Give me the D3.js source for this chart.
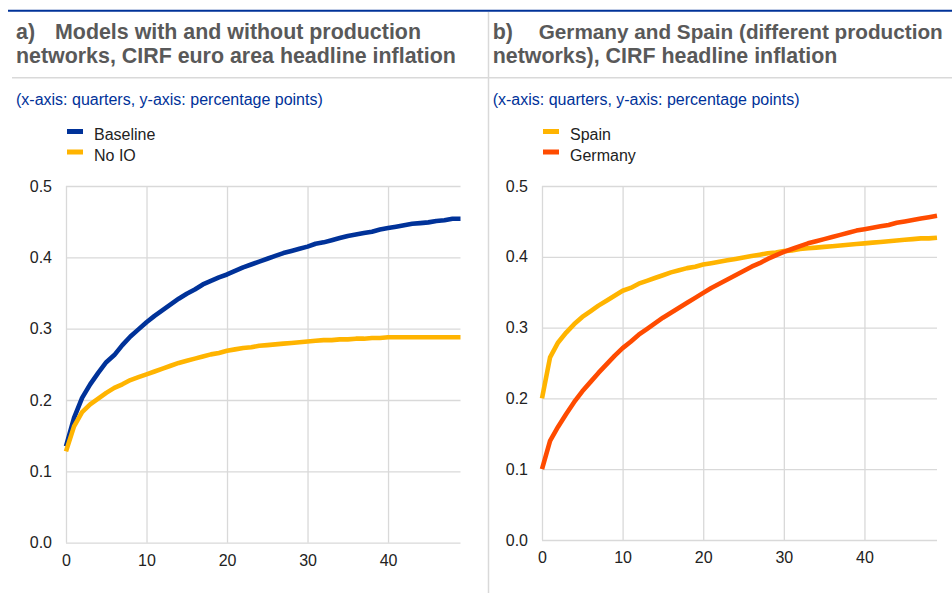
<!DOCTYPE html>
<html>
<head>
<meta charset="utf-8">
<script src="https://cdn.jsdelivr.net/npm/d3@7"></script>
<style>
  html, body { margin: 0; padding: 0; background: #fff; }
  svg { display: block; font-family: "Liberation Sans", Arial, sans-serif; }
</style>
</head>
<body>
<svg id="chart" width="952" height="593"></svg>
<script>
// ---- Data ----
const quarters = d3.range(0, 50);
const xTicks = [0, 10, 20, 30, 40];
const yTicks = [0.0, 0.1, 0.2, 0.3, 0.4, 0.5];

const baseline = [0.135,0.175,0.203,0.222,0.238,0.253,0.263,0.277,0.289,0.299,
  0.309,0.318,0.326,0.334,0.342,0.349,0.355,0.362,0.367,0.372,
  0.376,0.381,0.386,0.390,0.394,0.398,0.402,0.406,0.409,0.412,
  0.415,0.419,0.421,0.424,0.427,0.430,0.432,0.434,0.436,0.439,
  0.441,0.443,0.445,0.447,0.448,0.449,0.451,0.452,0.454,0.454];
const noIO = [0.128,0.163,0.183,0.194,0.202,0.210,0.217,0.222,0.228,0.232,
  0.236,0.240,0.244,0.248,0.252,0.255,0.258,0.261,0.264,0.266,
  0.269,0.271,0.273,0.274,0.276,0.277,0.278,0.279,0.280,0.281,
  0.282,0.283,0.284,0.284,0.285,0.285,0.286,0.286,0.287,0.287,
  0.288,0.288,0.288,0.288,0.288,0.288,0.288,0.288,0.288,0.288];
const spain = [0.200,0.258,0.279,0.293,0.305,0.315,0.323,0.331,0.338,0.345,
  0.352,0.356,0.362,0.366,0.370,0.374,0.378,0.381,0.384,0.386,
  0.389,0.391,0.393,0.395,0.397,0.399,0.401,0.403,0.405,0.406,
  0.408,0.409,0.411,0.412,0.413,0.414,0.415,0.416,0.417,0.418,
  0.419,0.420,0.421,0.422,0.423,0.424,0.425,0.426,0.426,0.427];
const germany = [0.100,0.140,0.160,0.178,0.195,0.210,0.223,0.236,0.248,0.260,
  0.271,0.280,0.290,0.298,0.306,0.314,0.321,0.328,0.335,0.342,
  0.349,0.356,0.362,0.368,0.374,0.380,0.386,0.391,0.397,0.402,
  0.407,0.411,0.415,0.419,0.422,0.425,0.428,0.431,0.434,0.437,
  0.439,0.441,0.443,0.445,0.448,0.450,0.452,0.454,0.456,0.458];

const labelA = "a)";
const titleA = ["Models with and without production", "networks, CIRF euro area headline inflation"];
const labelB = "b)";
const titleB = ["Germany and Spain (different production", "networks), CIRF headline inflation"];
const subtitle = "(x-axis: quarters, y-axis: percentage points)";

const panels = [
  { label: labelA, title: titleA, left: 0, width: 488, tx: 16, tx2: 55, maxW: 366,
    x0: 66, x1: 460.5, y0: 542.7, y1: 186,
    series: [ {name: "Baseline", values: baseline, color: "#003299"},
              {name: "No IO", values: noIO, color: "#ffb400"} ] },
  { label: labelB, title: titleB, left: 488, width: 464, tx: 492.7, tx2: 538.7, maxW: 404,
    x0: 542, x1: 937, y0: 540, y1: 186,
    series: [ {name: "Spain", values: spain, color: "#ffb400"},
              {name: "Germany", values: germany, color: "#ff4b00"} ] }
];

const svg = d3.select("#chart");

// top rule
svg.append("line").attr("x1", 8).attr("x2", 952).attr("y1", 10.7).attr("y2", 10.7)
  .attr("stroke", "#003299").attr("stroke-width", 2);
// vertical divider
svg.append("line").attr("x1", 488.5).attr("x2", 488.5).attr("y1", 12).attr("y2", 593)
  .attr("stroke", "#d9d9d9").attr("stroke-width", 1.5);

panels.forEach((p, pi) => {
  const g = svg.append("g");
  // title
  const fs = 21.4;
  const t = g.append("text").attr("fill", "#595959").attr("font-weight", "bold").attr("font-size", fs + "px");
  t.append("tspan").attr("x", p.tx).attr("y", 39).text(p.label);
  const first = t.append("tspan").attr("x", p.tx2).attr("y", 39).text(p.title[0]);
  t.append("tspan").attr("x", p.tx).attr("y", 63.3).text(p.title[1]);
  const w = first.node().getComputedTextLength();
  if (w > p.maxW) first.attr("font-size", (fs * p.maxW / w).toFixed(2) + "px");
  // separator under title
  g.append("line").attr("x1", p.left + (pi === 0 ? 12 : 0)).attr("x2", p.left + p.width)
    .attr("y1", 77.7).attr("y2", 77.7).attr("stroke", "#d9d9d9").attr("stroke-width", 1.5);
  // subtitle
  g.append("text").attr("x", p.tx).attr("y", 105).attr("fill", "#003299")
    .attr("font-size", "16px").text(subtitle);

  const x = d3.scaleLinear().domain([0, 49]).range([p.x0, p.x1]);
  const y = d3.scaleLinear().domain([0, 0.5]).range([p.y0, p.y1]);

  // grid
  const gy = g.append("g").attr("transform", `translate(${p.x0},0)`)
    .call(d3.axisLeft(y).tickValues(yTicks).tickSize(-(p.x1 - p.x0)).tickFormat(d3.format(".1f")).tickPadding(14));
  gy.select(".domain").remove();
  gy.selectAll(".tick line").attr("stroke", "#d9d9d9").attr("stroke-width", 1.3);
  gy.selectAll(".tick text").attr("fill", "#222").attr("font-size", "16px")
    .attr("font-family", "Liberation Sans, Arial, sans-serif");

  const gx = g.append("g").attr("transform", `translate(0,${p.y0})`)
    .call(d3.axisBottom(x).tickValues(xTicks).tickSize(-(p.y0 - p.y1)).tickPadding(12));
  gx.select(".domain").remove();
  gx.selectAll(".tick line").attr("stroke", "#d9d9d9").attr("stroke-width", 1.3);
  gx.selectAll(".tick text").attr("fill", "#222").attr("font-size", "16px")
    .attr("font-family", "Liberation Sans, Arial, sans-serif");

  // lines
  const lineGen = d3.line().x((d, i) => x(quarters[i])).y(d => y(d));
  p.series.forEach(s => {
    g.append("path").datum(s.values).attr("d", lineGen)
      .attr("fill", "none").attr("stroke", s.color).attr("stroke-width", 4.6)
      .attr("stroke-linejoin", "round");
  });

  // legend
  const lx = p.left + (pi === 0 ? 67 : 55);
  p.series.forEach((s, i) => {
    const ly = 129 + i * 20.5;
    g.append("rect").attr("x", lx).attr("y", ly).attr("width", 16).attr("height", 5).attr("fill", s.color);
    g.append("text").attr("x", lx + 27).attr("y", ly + 11).attr("fill", "#222")
      .attr("font-size", "16px").text(s.name);
  });
});
</script>
</body>
</html>
